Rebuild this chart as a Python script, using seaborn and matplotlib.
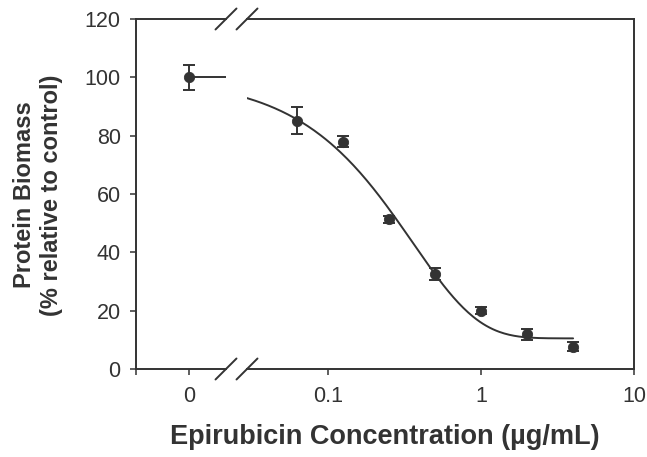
"""Dose-response of protein biomass to epirubicin, broken log x-axis."""

import matplotlib.pyplot as plt
import numpy as np
import pandas as pd
import seaborn as sns

# measured points (ug/mL, % of control, error)
control_conc = [0.0]
control_biomass = [100.0]
control_err = [4.2]

conc = [0.0625, 0.125, 0.25, 0.5, 1.0, 2.0, 4.0]
biomass = [85.1, 77.9, 51.3, 32.6, 20.0, 11.9, 7.6]
biomass_err = [4.6, 1.9, 1.2, 2.0, 1.3, 1.9, 1.5]

# single-exponential fit: y = floor + span * exp(-rate * x)
fit_floor = 10.5
fit_span = 89.5
fit_rate = 2.8
fit_start = 0.0296
fit_end = 4.0

log_ticks = [0.1, 1, 10]
log_ticklabels = ["0.1", "1", "10"]
y_ticks = [0, 20, 40, 60, 80, 100, 120]

INK = "#333333"

sns.set_style("ticks")
plt.rcParams["font.family"] = ["Liberation Sans", "DejaVu Sans"]
plt.rcParams["text.color"] = INK
plt.rcParams["axes.labelcolor"] = INK
plt.rcParams["xtick.color"] = INK
plt.rcParams["ytick.color"] = INK
plt.rcParams["axes.edgecolor"] = INK

fig = plt.figure(figsize=(6.47, 4.57), dpi=100)
W, H = 647, 457
bottom = (H - 369) / H
height = (369 - 19) / H
ax0 = fig.add_axes([136 / W, bottom, 90 / W, height])
ax1 = fig.add_axes([247 / W, bottom, 387 / W, height])

lw = 1.4
for ax in (ax0, ax1):
    for s in ax.spines.values():
        s.set_linewidth(lw)
    ax.set_ylim(0, 120)
    ax.tick_params(length=4, width=1.1, labelsize=15.5)
    ax.tick_params(axis="x", pad=8.5)
    ax.tick_params(axis="y", pad=7)

# left panel: control only
ctrl = pd.DataFrame({"conc": control_conc, "biomass": control_biomass})
ax0.errorbar(control_conc, control_biomass, yerr=control_err, fmt="none",
             ecolor=INK, elinewidth=1.4, capsize=4.5, capthick=1.4)
sns.scatterplot(data=ctrl, x="conc", y="biomass", ax=ax0, color=INK,
                s=55, edgecolor=INK, zorder=3)
ax0.set_xlim(-1, 0.7)
plateau = pd.DataFrame({"x": [0.0, 0.7], "y": [fit_floor + fit_span] * 2})
sns.lineplot(data=plateau, x="x", y="y", ax=ax0, color=INK, linewidth=lw)
ax0.spines["right"].set_visible(False)
ax0.set_xticks([-1, 0])
ax0.set_xticklabels(["", "0"])
ax0.set_yticks(y_ticks)
ax0.set_xlabel("")
ax0.set_ylabel("")

# right panel: log concentration
df = pd.DataFrame({"conc": conc, "biomass": biomass})
ax1.set_xscale("log")
ax1.errorbar(conc, biomass, yerr=biomass_err, fmt="none",
             ecolor=INK, elinewidth=1.4, capsize=4.5, capthick=1.4)
sns.scatterplot(data=df, x="conc", y="biomass", ax=ax1, color=INK,
                s=55, edgecolor=INK, zorder=3)
xs = np.geomspace(fit_start, fit_end, 200)
curve = pd.DataFrame({"x": xs, "y": fit_floor + fit_span * np.exp(-fit_rate * xs)})
sns.lineplot(data=curve, x="x", y="y", ax=ax1, color=INK, linewidth=lw)
ax1.set_xlim(fit_start, 10)
ax1.xaxis.set_major_locator(plt.FixedLocator(log_ticks))
ax1.xaxis.set_minor_locator(plt.NullLocator())
ax1.set_xticklabels(log_ticklabels)
ax1.spines["left"].set_visible(False)
ax1.tick_params(axis="y", left=False, labelleft=False)
ax1.set_xlabel("")
ax1.set_ylabel("")

# break marks
for ax, xpos, w in ((ax0, 1.0, 90), (ax1, 0.0, 387)):
    dx = 10.5 / w
    dy = 10.5 / 350
    for ypos in (0.0, 1.0):
        ax.plot([xpos - dx, xpos + dx], [ypos - dy, ypos + dy],
                transform=ax.transAxes, color=INK, lw=lw, clip_on=False)

fig.text(38 / W, (H - 195) / H, "Protein Biomass\n(% relative to control)",
         rotation=90, ha="center", va="center", fontsize=17,
         fontweight="bold", linespacing=1.22)
fig.text((136 + 634) / 2 / W, (H - 437) / H, "Epirubicin Concentration (\u00b5g/mL)",
         ha="center", va="center", fontsize=19.5, fontweight="bold")

fig.savefig("out.png", dpi=100)
